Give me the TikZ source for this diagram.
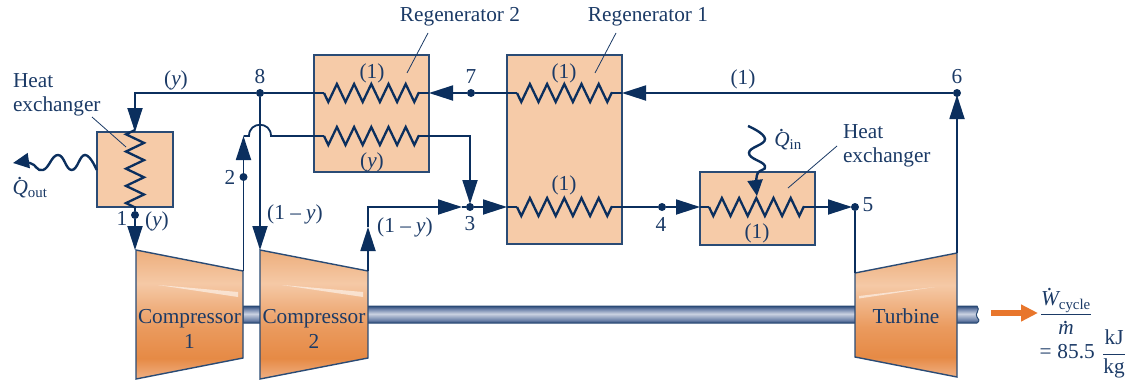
\documentclass[tikz,border=0pt]{standalone}
\usepackage{fontspec}
\setmainfont{Liberation Serif}
\usetikzlibrary{arrows.meta}
\usetikzlibrary{decorations.pathmorphing}
\definecolor{pipeblue}{HTML}{0B2F5E}
\definecolor{labelblue}{HTML}{1B3A66}
\definecolor{boxfill}{HTML}{F6CBA8}
\definecolor{boxedge}{HTML}{2A4B75}
\definecolor{workorange}{HTML}{E8762C}
\definecolor{casinglow}{HTML}{F0B084}
\definecolor{casingdeep}{HTML}{E68A45}
\definecolor{casingmid}{HTML}{EA9A5E}
\definecolor{casinglight}{HTML}{F5C9A6}
\definecolor{casingtop}{HTML}{EDAE7C}
\definecolor{shaftdark}{HTML}{2C4A78}
\definecolor{shaftmid}{HTML}{6F84AB}
\definecolor{shaftlight}{HTML}{CBD2E2}
\pgfdeclareverticalshading{casing}{100bp}{
    color(0bp)=(casinglow); color(25bp)=(casinglow); color(33bp)=(casingdeep); color(45bp)=(casingmid);
    color(62bp)=(casinglight); color(75bp)=(casingtop); color(100bp)=(casingtop)}
\pgfdeclareverticalshading{shaftbar}{100bp}{
    color(0bp)=(shaftdark); color(25bp)=(shaftdark); color(34bp)=(shaftmid); color(52bp)=(shaftlight);
    color(66bp)=(shaftmid); color(75bp)=(shaftdark); color(100bp)=(shaftdark)}
\newcommand{\dotvar}[2]{\textit{\ooalign{#2\cr\hidewidth\raisebox{#1}{.}\hidewidth\cr}}}
\tikzset{
    every node/.style={text=labelblue, font=\fontsize{21.3}{24.5}\selectfont},
    pipe/.style={draw=pipeblue, line width=1.8pt},
    pipearrow/.style={color=pipeblue, line width=1.8pt, -{Triangle[length=24pt,width=15pt]}},
    statept/.style={shape=circle, fill=pipeblue, inner sep=0pt, minimum size=8pt},
    hxbox/.style={draw=boxedge, fill=boxfill, line width=1.3pt},
    casingbox/.style={draw=boxedge, line width=1.4pt, shading=casing},
    coil/.style={draw=pipeblue, line width=2.3pt, decorate,
        decoration={zigzag, segment length=17.2pt, amplitude=9pt, mirror}},
    wave/.style={draw=pipeblue, line width=2.4pt},
    leader/.style={draw=labelblue, line width=0.8pt},
    shine/.style={fill=white, fill opacity=0.55}
}

\begin{document}
\begin{tikzpicture}[x=1pt,y=-1pt]
    \useasboundingbox (0,0) rectangle (1133,380);

    % shaft
    \path[draw=boxedge, line width=1pt, shading=shaftbar] (243,306) -- (977,306) .. controls (981,310) and (974,314) .. (977,317) .. controls (979,319) and (980,321) .. (977,323) -- (243,323) -- cycle;

    % casings
    \path[casingbox] (136,250) -- (243,271) -- (243,358) -- (136,379) -- cycle;
    \path[casingbox] (260,250) -- (368,271) -- (368,358) -- (260,379) -- cycle;
    \path[casingbox] (855,273) -- (957,253) -- (957,377) -- (855,357) -- cycle;
    \fill[shine] (158,285) -- (238,292) -- (238,297) -- cycle;
    \fill[shine] (282,285) -- (363,292) -- (363,297) -- cycle;
    \fill[shine] (859,296) -- (935,287) -- (859,298.5) -- cycle;

    % heat exchanger boxes
    \path[hxbox] (97,132) rectangle (173,207);
    \path[hxbox] (314,55) rectangle (429,172);
    \path[hxbox] (507,55) rectangle (622,244);
    \path[hxbox] (700,172) rectangle (815,245);

    % state points
    \node[statept] (1) at (135,215) {};
    \node[statept] (2) at (243.5,177) {};
    \node[statept] (3) at (470,207) {};
    \node[statept] (4) at (662,207) {};
    \node[statept] (5) at (855,207) {};
    \node[statept] (6) at (957,93) {};
    \node[statept] (7) at (471,93) {};
    \node[statept] (8) at (260,93) {};

    % free ends
    \coordinate (coolin) at (135,132);
    \coordinate (coolout) at (135,208);
    \coordinate (comp1in) at (135,250);
    \coordinate (comp1out) at (243.5,271);
    \coordinate (comp2in) at (260,250);
    \coordinate (comp2out) at (368,271);
    \coordinate (turbin) at (855,273);
    \coordinate (turbout) at (957,253);
    \coordinate (reg2hot) at (429,93);
    \coordinate (reg1hot) at (622,93);
    \coordinate (reg1cold) at (507,207);
    \coordinate (heatin) at (700,207);
    \coordinate (up2) at (243.5,136);
    \coordinate (up1y) at (368,227);
    \coordinate (to3) at (462,207);
    \coordinate (down3) at (470,204);
    \coordinate (to5) at (852,207);
    \coordinate (to6) at (957,95);

    % coils
    \path[coil] (135,130) -- (coolout);
    \path[coil] (324,93) -- (419,93);
    \path[coil] (324,136) -- (419,136);
    \path[coil] (517,93) -- (612,93);
    \path[coil] (517,207) -- (612,207);
    \path[coil] (709,207) -- (804,207);

    % pipes
    \draw[pipearrow] (8) -- (135,93) -- (coolin);
    \draw[pipe] (8) -- (324,93);
    \draw[pipe] (419,93) -- (reg2hot);
    \path[pipearrow] (7) edge (reg2hot);
    \draw[pipe] (7) -- (517,93);
    \draw[pipe] (612,93) -- (reg1hot);
    \path[pipearrow] (6) edge (reg1hot);
    \path[pipearrow] (turbout) edge (to6);
    \path[pipearrow] (8) edge (comp2in);
    \draw[pipe] (coolout) -- (1);
    \path[pipearrow] (1) edge (comp1in);
    \path[pipearrow] (comp1out) edge (up2);
    \draw[pipe] (up2) -- (249,136) .. controls (249,121) and (271,121) .. (271,136) -- (324,136);
    \draw[pipearrow] (419,136) -- (470,136) -- (down3);
    \path[pipearrow] (comp2out) edge (up1y);
    \draw[pipearrow] (up1y) -- (368,207) -- (to3);
    \draw[pipe] (to3) -- (3);
    \path[pipearrow] (3) edge (reg1cold);
    \draw[pipe] (reg1cold) -- (517,207);
    \draw[pipe] (612,207) -- (4);
    \path[pipearrow] (4) edge (heatin);
    \draw[pipe] (heatin) -- (709,207);
    \draw[pipearrow] (804,207) -- (to5);
    \draw[pipe] (5) -- (turbin);

    % heat flows
    \coordinate (qoutend) at (96.7,170);
    \coordinate (qintip) at (757,196);
    \draw[wave, -{Triangle[length=16pt,width=15pt]}] plot[smooth, tension=0.8] coordinates {(qoutend) (85,155) (71.7,170) (58,155) (43,170) (30,163) (13,163)};
    \draw[wave, -{Triangle[length=16pt,width=15pt]}] plot[smooth, tension=0.8] coordinates {(748,126) (765,139) (749,153) (765,166) (757,175) (qintip)};
    \draw[-{Triangle[length=17pt,width=16pt]}, draw=workorange, fill=workorange, line width=6.5pt] (991,313) -- (1038,313);

    % leaders
    \draw[leader] (92,117) -- (126,147);
    \draw[leader] (428,33) -- (407,73);
    \draw[leader] (616,33) -- (595,73);
    \draw[leader] (837,146) -- (788,188);

    % labels
    \node[anchor=west, align=left] (hxleft) at (9.5,95) {Heat\\exchanger};
    \node[anchor=west, align=left] (hxright) at (839.5,146) {Heat\\exchanger};
    \node (reg2name) at (460,17) {Regenerator 2};
    \node (reg1name) at (648,17) {Regenerator 1};
    \node (comp1name) at (189.5,329) [align=center] {Compressor\\1};
    \node (comp2name) at (314,329) [align=center] {Compressor\\2};
    \node (turbname) at (906,316) {Turbine};
    \node (lab1) at (122,218) {1};
    \node (lab2) at (230,177) {2};
    \node (lab3) at (470,224) {3};
    \node (lab4) at (661,224) {4};
    \node (lab5) at (868,205) {5};
    \node (lab6) at (957,77) {6};
    \node (lab7) at (471,77) {7};
    \node (lab8) at (260,77) {8};
    \node (ytop) at (176,80) {(\textit{y})};
    \node (ybelow) at (157,221) {(\textit{y})};
    \node (yreg) at (372,162) {(\textit{y})};
    \node (oneminus1) at (295,214) {(1 -- \textit{y})};
    \node (oneminus2) at (405,227) {(1 -- \textit{y})};
    \node (onereg2) at (372,73) {(1)};
    \node (onereg1a) at (564,73) {(1)};
    \node (onereg1b) at (564,185) {(1)};
    \node (oneheat) at (757,233.5) {(1)};
    \node (onetop) at (743,79) {(1)};
    \node (qoutname) at (30,189) {\dotvar{0.72em}{Q}\textsubscript{out}};
    \node (qinname) at (788,141) {\dotvar{0.72em}{Q}\textsubscript{in}};
    \node (workfrac) at (1066,313) {$\displaystyle\frac{\hbox{\dotvar{0.72em}{W}\textsubscript{cycle}}}{\hbox{\dotvar{0.52em}{m}}}$};
    \node[anchor=west] (workval) at (1036,354) {=\hspace{0.28em}85.5\hspace{0.1em} $\displaystyle\frac{\hbox{kJ}}{\hbox{kg}}$};
\end{tikzpicture}
\end{document}
